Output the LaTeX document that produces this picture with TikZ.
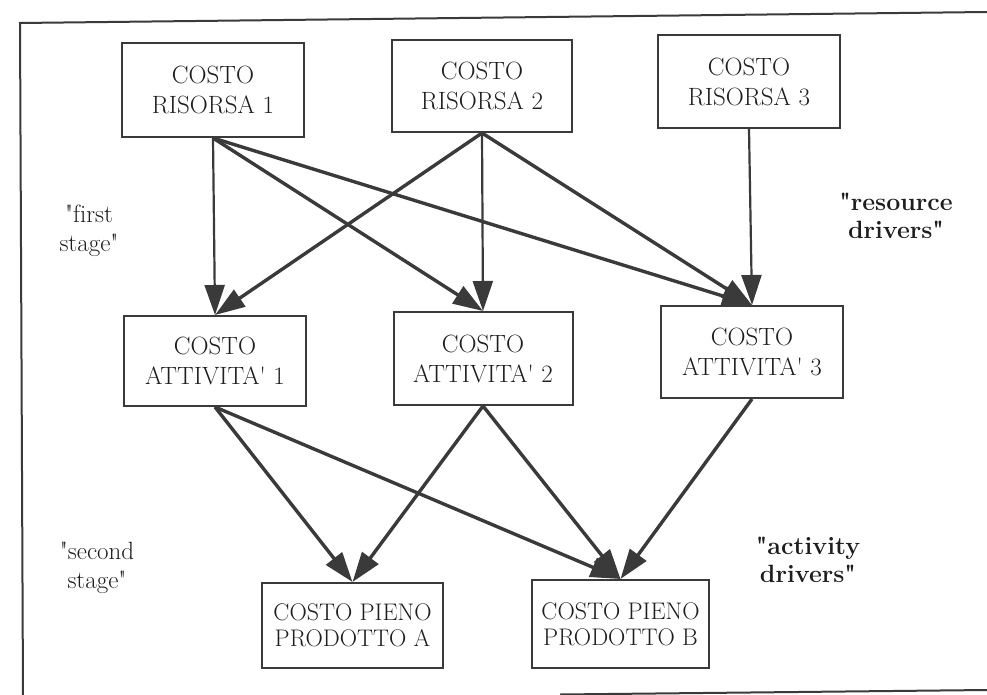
\documentclass[tikz,border=0pt]{standalone}
\usetikzlibrary{arrows.meta}
\definecolor{ink}{HTML}{3A3A3A}
\definecolor{txt}{HTML}{1E1E1E}
\tikzset{
  costbox/.style={draw=ink, line width=2pt, inner sep=0pt, align=center, text=txt,
    font=\fontsize{25}{30}\selectfont},
  prodbox/.style={costbox, font=\fontsize{24}{26}\selectfont},
  lbl/.style={align=center, text=txt, font=\fontsize{25}{29}\selectfont},
  blbl/.style={lbl, font=\fontsize{25}{28}\selectfont\bfseries},
  conn/.style={draw=ink, line width=3.4pt, -{Triangle[length=30pt,width=20pt]}},
  vconn/.style={conn, line width=2.2pt},
  frameline/.style={draw=ink, line width=2pt}
}
\newcommand{\qq}{\textquotedbl}
\begin{document}
\begin{tikzpicture}[x=1pt,y=-1pt]
\useasboundingbox (0,0) rectangle (987,695);
% frame
\coordinate (ftl) at (20,23);
\coordinate (ftr) at (987,12);
\coordinate (fbl) at (23,695);
\coordinate (fb1) at (560,694.5);
\coordinate (fb2) at (987,690);
\draw[frameline] (fbl) -- (ftl) -- (ftr);
\draw[frameline] (fb1) -- (fb2);
% resources
\node[costbox, minimum width=182pt, minimum height=94pt] (r1) at (213,90) {COSTO\\RISORSA 1};
\node[costbox, minimum width=180pt, minimum height=92pt] (r2) at (482,86) {COSTO\\RISORSA 2};
\node[costbox, minimum width=182pt, minimum height=93pt] (r3) at (749,81.5) {COSTO\\RISORSA 3};
% activities
\node[costbox, minimum width=182pt, minimum height=90pt] (a1) at (215,361) {COSTO\\ATTIVITA\textquotesingle{} 1};
\node[costbox, minimum width=179pt, minimum height=93pt] (a2) at (483,358.5) {COSTO\\ATTIVITA\textquotesingle{} 2};
\node[costbox, minimum width=182pt, minimum height=92pt] (a3) at (752,352) {COSTO\\ATTIVITA\textquotesingle{} 3};
% products
\node[prodbox, minimum width=181pt, minimum height=85pt] (pa) at (352.5,625.5) {COSTO PIENO\\PRODOTTO A};
\node[prodbox, minimum width=177pt, minimum height=88pt] (pb) at (620.5,624) {COSTO PIENO\\PRODOTTO B};
% labels
\node[lbl] (l1) at (89,231) {\qq f\kern0pt irst\\stage\qq};
\node[lbl] (l2) at (97,568) {\qq second\\stage\qq};
\node[blbl] (l3) at (896,215.5) {\qq resource\\drivers\qq};
\node[blbl] (l4) at (808,560) {\qq activity\\drivers\qq};
% first stage connectors
\draw[vconn] (r1.south) -- (a1.north);
\draw[conn] (r1.south) -- (a2.north);
\draw[conn] (r1.south) -- (a3.north);
\draw[conn] (r2.south) -- (a1.north);
\draw[vconn] (r2.south) -- (a2.north);
\draw[conn] (r2.south) -- (a3.north);
\draw[vconn] (r3.south) -- (a3.north);
% second stage connectors
\draw[conn] (a1.south) -- (pa.north);
\draw[conn] (a1.south) -- (pb.north);
\draw[conn] (a2.south) -- (pa.north);
\draw[conn] (a2.south) -- (pb.north);
\draw[conn] (a3.south) -- (pb.north);
\end{tikzpicture}
\end{document}
